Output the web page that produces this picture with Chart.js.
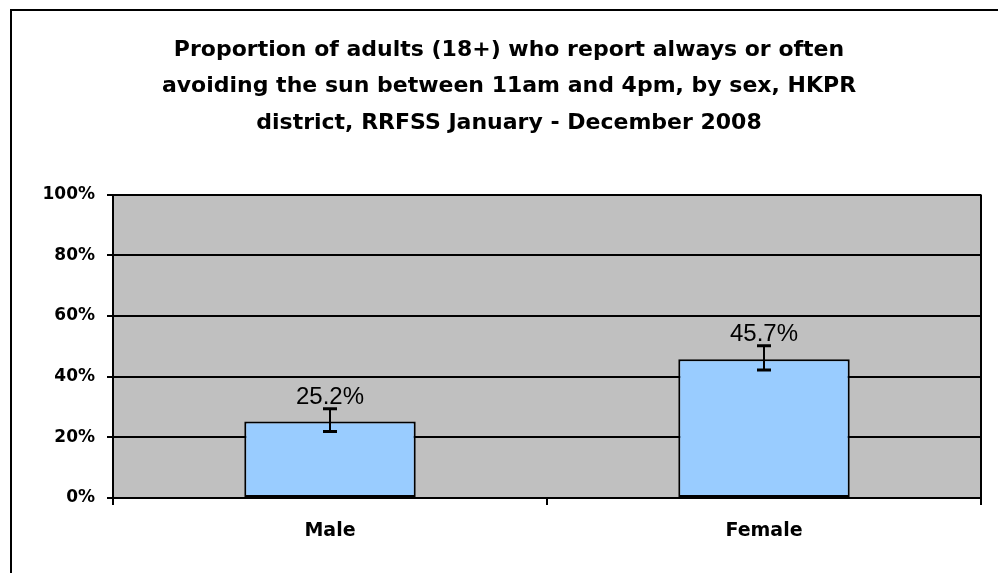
<!DOCTYPE html>
<html>
<head>
<meta charset="utf-8">
<script src="https://cdn.jsdelivr.net/npm/chart.js@4.4.1/dist/chart.umd.min.js"></script>
<style>
  html, body { margin: 0; padding: 0; background: #fff; }
  canvas { display: block; }
</style>
</head>
<body>
<canvas id="myChart" width="998" height="573"></canvas>
<script>
// Chart data
const categories = ["Male", "Female"];
const values = [25.2, 45.7];
const lowerCI = [21.9, 42.2];
const upperCI = [29.4, 50.2];
const titleLines = [
  "Proportion of adults (18+) who report always or often",
  "avoiding the sun between 11am and 4pm, by sex, HKPR",
  "district, RRFSS January - December 2008",
];

const FONT = "'Liberation Sans', Arial, sans-serif";
const BOLD_FONT = "'DejaVu Sans', Verdana, sans-serif";

// frame, grey plot background and right border
const backdrop = {
  id: "backdrop",
  beforeDraw(chart) {
    const { ctx, chartArea: a } = chart;
    ctx.save();
    ctx.fillStyle = "#c0c0c0";
    ctx.fillRect(a.left, a.top, a.right - a.left, a.bottom - a.top);
    ctx.strokeStyle = "#000";
    ctx.lineWidth = 2;
    ctx.beginPath();
    ctx.moveTo(11, 573);
    ctx.lineTo(11, 10);
    ctx.lineTo(998, 10);
    ctx.stroke();
    ctx.restore();
  },
  afterDraw(chart) {
    const { ctx, chartArea: a } = chart;
    ctx.save();
    ctx.strokeStyle = "#000";
    ctx.lineWidth = 2;
    ctx.beginPath();
    ctx.moveTo(a.right, a.top);
    ctx.lineTo(a.right, a.bottom + 7);
    ctx.stroke();
    ctx.restore();
  },
};

// error bars and value labels
const errorBars = {
  id: "errorBars",
  afterDatasetsDraw(chart) {
    const { ctx } = chart;
    const y = chart.scales.y;
    const meta = chart.getDatasetMeta(0);
    ctx.save();
    ctx.strokeStyle = "#000";
    meta.data.forEach((bar, i) => {
      const x = Math.round(bar.x);
      const yTop = y.getPixelForValue(upperCI[i]);
      const yBot = y.getPixelForValue(lowerCI[i]);
      ctx.lineWidth = 2;
      ctx.beginPath();
      ctx.moveTo(x, yTop);
      ctx.lineTo(x, yBot);
      ctx.stroke();
      ctx.lineWidth = 3;
      ctx.beginPath();
      ctx.moveTo(x - 7, yTop);
      ctx.lineTo(x + 7, yTop);
      ctx.moveTo(x - 7, yBot);
      ctx.lineTo(x + 7, yBot);
      ctx.stroke();

      ctx.fillStyle = "#000";
      ctx.font = "24px " + FONT;
      ctx.textAlign = "center";
      ctx.textBaseline = "alphabetic";
      ctx.fillText(values[i].toFixed(1) + "%", x, yTop - 5);
    });
    ctx.restore();
  },
};

new Chart(document.getElementById("myChart"), {
  type: "bar",
  data: {
    labels: categories,
    datasets: [
      {
        data: values,
        backgroundColor: "#99ccff",
        borderColor: "#000",
        borderWidth: 2,
        borderSkipped: false,
        categoryPercentage: 1,
        barPercentage: 0.395,
      },
    ],
  },
  options: {
    responsive: false,
    devicePixelRatio: 1,
    animation: false,
    layout: { padding: { left: 37, right: 17, top: 0, bottom: 0 } },
    plugins: {
      legend: { display: false },
      tooltip: { enabled: false },
      title: {
        display: true,
        text: titleLines,
        color: "#000",
        font: { family: BOLD_FONT, size: 22, weight: "bold", lineHeight: 1.66 },
        padding: { top: 32, bottom: 53 },
      },
    },
    scales: {
      x: {
        grid: {
          offset: true,
          drawOnChartArea: false,
          color: "#000",
          lineWidth: 2,
          tickLength: 7,
        },
        border: { color: "#000", width: 2 },
        ticks: {
          color: "#000",
          font: { family: BOLD_FONT, size: 19, weight: "bold" },
          padding: 15,
        },
        afterFit(scale) {
          scale.height = 75;
        },
      },
      y: {
        min: 0,
        max: 100,
        ticks: {
          stepSize: 20,
          color: "#000",
          font: { family: BOLD_FONT, size: 17, weight: "bold" },
          padding: 12,
          callback: (v) => v + "%",
        },
        grid: { color: "#000", lineWidth: 2, tickLength: 6 },
        border: { color: "#000", width: 2 },
        afterFit(scale) {
          scale.width = 76;
        },
      },
    },
  },
  plugins: [backdrop, errorBars],
});
</script>
</body>
</html>
